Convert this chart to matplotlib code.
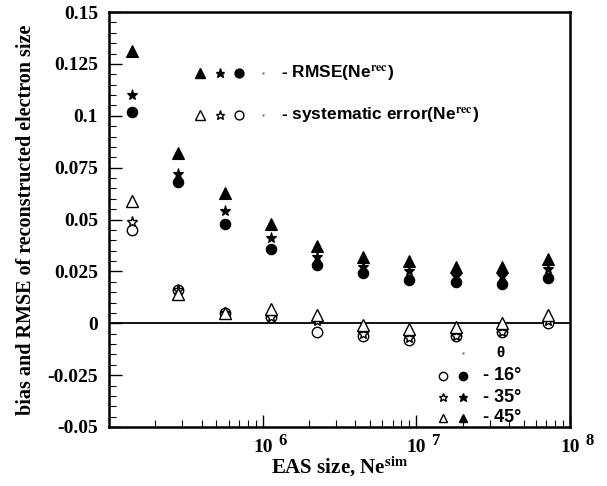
import numpy as np
import matplotlib
matplotlib.use("Agg")
import matplotlib.pyplot as plt
from matplotlib.ticker import FixedLocator, NullFormatter, MultipleLocator

plt.rcParams['font.family'] = ['Liberation Serif', 'DejaVu Serif']
plt.rcParams['mathtext.fontset'] = 'stix'

# EAS size Ne^sim (log-spaced, factor 2)
ne_sim = [1.41e5, 2.83e5, 5.66e5, 1.13e6, 2.26e6, 4.5e6, 9.0e6, 1.8e7, 3.6e7, 7.2e7]

# RMSE (filled markers)
rmse_16 = [0.102, 0.068, 0.048, 0.036, 0.028, 0.024, 0.021, 0.020, 0.019, 0.022]
rmse_35 = [0.110, 0.072, 0.054, 0.041, 0.032, 0.027, 0.025, 0.023, 0.023, 0.026]
rmse_45 = [0.131, 0.082, 0.063, 0.048, 0.037, 0.032, 0.030, 0.027, 0.027, 0.031]

# systematic error (open markers)
sys_16 = [0.045, 0.016, 0.005, 0.003, -0.004, -0.006, -0.008, -0.006, -0.004, 0.000]
sys_35 = [0.049, 0.016, 0.005, 0.003, 0.001, -0.005, -0.007, -0.006, -0.004, 0.001]
sys_45 = [0.059, 0.014, 0.005, 0.007, 0.004, -0.001, -0.003, -0.002, 0.000, 0.004]

angles = ['16', '35', '45']
x_exponents = [6, 7, 8]

fig = plt.figure(figsize=(6.07, 4.86), dpi=100)
ax = fig.add_axes([0.1796, 0.1214, 0.7595, 0.8539])

ms = {'o': 7.5, '*': 8, '^': 8}
for vals, m in [(rmse_16, 'o'), (rmse_35, '*'), (rmse_45, '^')]:
    ax.plot(ne_sim, vals, linestyle='none', marker=m, ms=ms[m],
            mfc='black', mec='black', mew=0.8)
for vals, m in [(sys_16, 'o'), (sys_35, '*'), (sys_45, '^')]:
    ax.plot(ne_sim, vals, linestyle='none', marker=m, ms=ms[m],
            mfc='white', mec='black', mew=1.0)

ax.axhline(0, color='black', lw=1.3, zorder=0)

ax.set_xscale('log')
ax.set_xlim(1e5, 1e8)
ax.set_ylim(-0.05, 0.15)

for s in ax.spines.values():
    s.set_linewidth(1.8)

ax.yaxis.set_major_locator(FixedLocator([-0.05, -0.025, 0, 0.025, 0.05, 0.075, 0.1, 0.125, 0.15]))
ax.yaxis.set_minor_locator(MultipleLocator(0.005))
ax.set_yticklabels(['-0.05', '-0.025', '0', '0.025', '0.05', '0.075', '0.1', '0.125', '0.15'],
                   fontsize=14, fontweight='bold')

ax.set_xticks([10.0**e for e in x_exponents])
ax.set_xticklabels(['10'] * len(x_exponents), fontsize=14, fontweight='bold')
ax.tick_params(axis='both', which='both', direction='in', top=False, right=False)
ax.tick_params(axis='y', which='major', length=9, width=1.0, pad=8)
ax.tick_params(axis='y', which='minor', length=5, width=0.8)
ax.tick_params(axis='x', which='major', length=9, width=1.0, pad=9)
ax.tick_params(axis='x', which='minor', length=5, width=0.8)
ax.xaxis.set_minor_formatter(NullFormatter())

for e in x_exponents:
    ax.annotate(str(e), xy=(10.0**e, 0), xycoords=('data', 'axes fraction'),
                xytext=(14, -10), textcoords='offset points', ha='center', va='center',
                fontsize=12, fontweight='bold')

ax.set_xlabel(r'EAS size, Ne$^{\mathbf{sim}}$', fontsize=15, fontweight='bold', labelpad=-1)
ax.set_ylabel('bias and RMSE of reconstructed electron size', fontsize=14.5,
              fontweight='bold', labelpad=8)

# upper legend
sans = ['Liberation Sans', 'DejaVu Sans']
tr = ax.transAxes
for xk, m in zip([0.197, 0.241, 0.282], ['^', '*', 'o']):
    ax.plot([xk], [0.853], marker=m, ms=ms[m] * 0.85, mfc='black', mec='black', transform=tr, clip_on=False)
    ax.plot([xk], [0.752], marker=m, ms=ms[m] * 0.85, mfc='white', mec='black', mew=1.0, transform=tr, clip_on=False)
for yk in [0.853, 0.752]:
    ax.plot([0.334], [yk], marker='.', ms=1.5, color='gray', transform=tr)
ax.text(0.372, 0.853, r'- RMSE(Ne$^{\mathbf{rec}}$)', transform=tr, va='center', ha='left',
        fontsize=12.5, fontweight='bold', family=sans)
ax.text(0.372, 0.752, r'- systematic error(Ne$^{\mathbf{rec}}$)', transform=tr, va='center', ha='left',
        fontsize=12.5, fontweight='bold', family=sans)

# lower legend
ax.plot([0.768], [0.178], marker='.', ms=1.5, color='gray', transform=tr)
ax.text(0.848, 0.178, 'θ', transform=tr, va='center', ha='center', fontsize=11,
        fontweight='bold', family=sans)
for yk, m, ang in zip([0.123, 0.072, 0.022], ['o', '*', '^'], angles):
    ax.plot([0.7245], [yk], marker=m, ms=ms[m] * 0.8, mfc='white', mec='black', mew=1.0, transform=tr, clip_on=False)
    ax.plot([0.768], [yk], marker=m, ms=ms[m] * 0.8, mfc='black', mec='black', transform=tr, clip_on=False)
    ax.text(0.812, yk, '- ' + ang + '°', transform=tr, va='center', ha='left',
            fontsize=13, fontweight='bold', family=sans)

fig.savefig('out.png', dpi=100)
